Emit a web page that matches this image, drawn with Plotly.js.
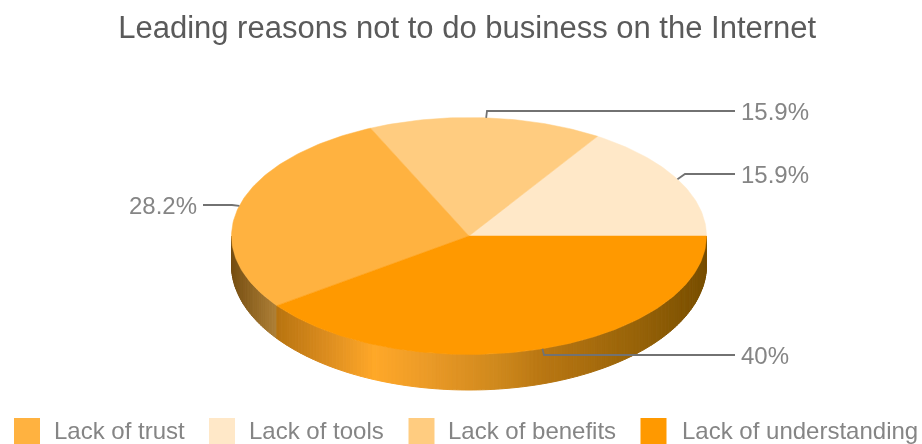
<!DOCTYPE html>
<html>
<head>
<meta charset="utf-8">
<script src="https://cdn.plot.ly/plotly-3.0.1.min.js"></script>
<style>
html,body{margin:0;padding:0;background:#fff;overflow:hidden}
#chart{width:922px;height:444px;filter:blur(0.6px)}
</style>
</head>
<body>
<div id="chart"></div>
<script>
// data, counter-clockwise from the 3 o'clock position
const sliceLabels = ["Lack of tools", "Lack of benefits", "Lack of trust", "Lack of understanding"];
const sliceValues = [15.9, 15.9, 28.2, 40];
const sliceColors = ["#ffe8c8", "#ffcc80", "#ffb240", "#ff9900"];
// legend
const legendLabels = ["Lack of trust", "Lack of tools", "Lack of benefits", "Lack of understanding"];
const legendColors = ["#ffb240", "#ffe8c8", "#ffcc80", "#ff9900"];
const legendSwatchX = [27, 222, 421.5, 653.5];
const legendTextX = [52, 247, 446, 680];
// chart geometry
const cx = 469, cy = 236, rx = 237.5, ry = 118.5, wallEdge = 29, bottomRy = 125;
// label rows (same order as slices)
const labelY = [174, 111, 205, 355];
const labelElbowX = [685, 487, 232, 544];
const labelEndX = [735, 735, 203, 735];
const labelTextX = [738.5, 738.5, 199, 738.5];
// side wall shading: [x, r, g, b]
const wallStopsBack = [[232,118,78,18],[278,176,130,56]];
const wallStopsFront = [[278,184,116,16],[330,222,142,32],[375,255,168,40],[420,238,156,40],[500,206,136,28],[545,184,118,18],[640,150,98,8],[706,120,78,0]];

function shade(stops, x) {
  if (x <= stops[0][0]) return `rgb(${stops[0].slice(1).join(",")})`;
  for (let i = 1; i < stops.length; i++) {
    if (x <= stops[i][0]) {
      const a = stops[i-1], b = stops[i], t = (x-a[0])/(b[0]-a[0]);
      const c = [1,2,3].map(k => Math.round(a[k]+(b[k]-a[k])*t));
      return `rgb(${c.join(",")})`;
    }
  }
  return `rgb(${stops[stops.length-1].slice(1).join(",")})`;
}
const rad = d => d*Math.PI/180;
const pt = (deg) => [cx + rx*Math.cos(rad(deg)), cy - ry*Math.sin(rad(deg))];
const lowY = (deg) => cy + wallEdge - bottomRy*Math.sin(rad(deg));

const traces = [];
const total = sliceValues.reduce((a,b)=>a+b,0);
const startAngles = [];
let acc = 0;
sliceValues.forEach(v => { startAngles.push(acc/total*360); acc += v; });
const splitAngle = startAngles[3];

// side wall
for (let a = 180; a < 360; a += 1) {
  const p = pt(a), q = pt(a+1);
  const mid = (p[0]+q[0])/2;
  const col = shade(a < splitAngle ? wallStopsBack : wallStopsFront, mid);
  traces.push({type:"scatter", mode:"lines", x:[p[0],q[0],q[0],p[0],p[0]], y:[p[1],q[1],lowY(a+1),lowY(a),p[1]],
    fill:"toself", fillcolor:col, line:{color:col,width:1}, hoverinfo:"skip", showlegend:false});
}
// top face
sliceValues.forEach((v,i) => {
  const s = startAngles[i], e = s + v/total*360;
  const xs=[cx], ys=[cy];
  for (let a=s; a<e; a+=1) { const p=pt(a); xs.push(p[0]); ys.push(p[1]); }
  const p=pt(e); xs.push(p[0],cx); ys.push(p[1],cy);
  traces.push({type:"scatter", mode:"lines", x:xs, y:ys, fill:"toself", fillcolor:sliceColors[i],
    line:{color:sliceColors[i],width:0.5}, name:sliceLabels[i], hoverinfo:"name", showlegend:false});
});
// leader lines
const annotations = [];
sliceValues.forEach((v,i) => {
  const p = pt(startAngles[i] + v/total*180);
  traces.push({type:"scatter", mode:"lines", x:[p[0],labelElbowX[i],labelEndX[i]], y:[p[1],labelY[i],labelY[i]],
    line:{color:"#727272",width:1.8}, hoverinfo:"skip", showlegend:false});
  annotations.push({x:labelTextX[i], y:labelY[i], xref:"x", yref:"y", showarrow:false, text:v+"%",
    xanchor: labelTextX[i] < cx ? "right":"left", yanchor:"middle", font:{family:"Liberation Sans",size:24,color:"#858585"}});
});
// legend
traces.push({type:"scatter", mode:"markers", x:legendSwatchX, y:legendSwatchX.map(()=>431),
  marker:{symbol:"square", size:26, color:legendColors}, hoverinfo:"skip", showlegend:false, cliponaxis:false});
legendLabels.forEach((t,i)=>annotations.push({x:legendTextX[i], y:430.5, xref:"x", yref:"y", showarrow:false, text:t,
  xanchor:"left", yanchor:"middle", font:{family:"Liberation Sans",size:24,color:"#858585"}}));

const layout = {
  width:922, height:444, margin:{l:0,r:0,t:0,b:0}, paper_bgcolor:"#fff", plot_bgcolor:"#fff",
  title:{text:"Leading reasons not to do business on the Internet", x:0.5067, xanchor:"center", y:0.939, yanchor:"middle",
    font:{family:"Liberation Sans",size:31,color:"#5a5a5a"}},
  xaxis:{range:[0,922],visible:false,fixedrange:true},
  yaxis:{range:[444,0],visible:false,fixedrange:true},
  annotations, showlegend:false
};
Plotly.newPlot("chart", traces, layout, {displayModeBar:false, staticPlot:true});
</script>
</body>
</html>
